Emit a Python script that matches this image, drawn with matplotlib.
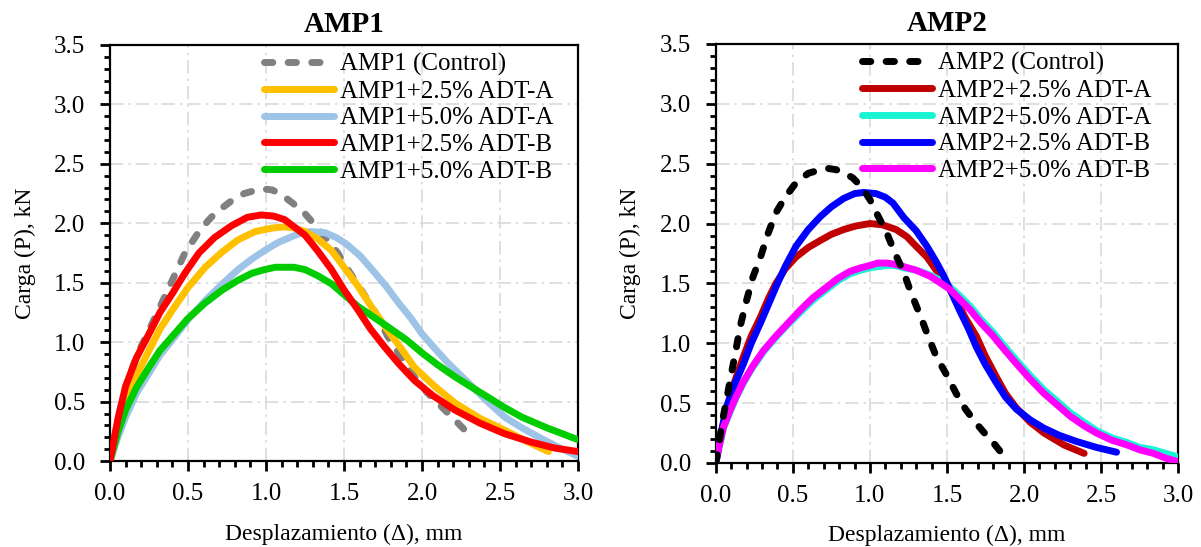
import matplotlib
matplotlib.use("Agg")
import matplotlib.pyplot as plt
from matplotlib.ticker import MultipleLocator

plt.rcParams['font.family'] = ['Liberation Serif', 'DejaVu Serif']

# ---------------- AMP1 ----------------
amp1_ctrl_x = [0, 0.05, 0.1, 0.17, 0.25, 0.35, 0.48, 0.58, 0.67, 0.77, 0.86, 0.97, 1.04, 1.10, 1.17, 1.25, 1.35,
               1.46, 1.53, 1.61, 1.70, 1.78, 1.87, 1.95, 2.03, 2.10, 2.23, 2.32]
amp1_ctrl_y = [0, 0.35, 0.62, 0.88, 1.10, 1.38, 1.75, 1.95, 2.08, 2.18, 2.25, 2.29, 2.28, 2.24, 2.17, 2.08, 1.93,
               1.75, 1.60, 1.44, 1.25, 1.05, 0.87, 0.71, 0.58, 0.49, 0.32, 0.20]

amp1_25a_x = [0, 0.05, 0.1, 0.17, 0.25, 0.32, 0.4, 0.5, 0.61, 0.72, 0.82, 0.93, 1.04, 1.12, 1.18, 1.25, 1.33,
              1.42, 1.5, 1.59, 1.68, 1.78, 1.87, 1.95, 2.08, 2.21, 2.37, 2.53, 2.68, 2.81]
amp1_25a_y = [0, 0.27, 0.49, 0.72, 0.93, 1.11, 1.27, 1.46, 1.63, 1.76, 1.86, 1.93, 1.96, 1.97, 1.96, 1.93, 1.87,
              1.77, 1.63, 1.47, 1.29, 1.10, 0.94, 0.79, 0.63, 0.49, 0.36, 0.26, 0.16, 0.08]

amp1_50a_x = [0, 0.05, 0.1, 0.17, 0.25, 0.32, 0.4, 0.5, 0.61, 0.72, 0.82, 0.91, 0.99, 1.08, 1.17, 1.23, 1.29,
              1.38, 1.45, 1.51, 1.6, 1.68, 1.77, 1.85, 1.93, 2.0, 2.08, 2.17, 2.32, 2.42, 2.53, 2.64, 2.75,
              2.87, 3.0]
amp1_50a_y = [0, 0.2, 0.37, 0.57, 0.74, 0.89, 1.02, 1.19, 1.35, 1.49, 1.61, 1.70, 1.77, 1.84, 1.89, 1.92, 1.93,
              1.92, 1.88, 1.83, 1.73, 1.61, 1.47, 1.33, 1.20, 1.07, 0.95, 0.82, 0.63, 0.50, 0.37, 0.28, 0.20,
              0.12, 0.04]

amp1_25b_x = [0, 0.05, 0.1, 0.17, 0.25, 0.32, 0.4, 0.48, 0.57, 0.67, 0.78, 0.88, 0.97, 1.05, 1.12, 1.18, 1.25,
              1.33, 1.42, 1.5, 1.59, 1.67, 1.76, 1.85, 1.95, 2.07, 2.21, 2.37, 2.53, 2.7, 2.85, 3.0]
amp1_25b_y = [0, 0.35, 0.63, 0.87, 1.07, 1.25, 1.41, 1.58, 1.75, 1.88, 1.98, 2.05, 2.07, 2.06, 2.03, 1.97, 1.90,
              1.77, 1.61, 1.44, 1.27, 1.11, 0.96, 0.82, 0.68, 0.55, 0.43, 0.32, 0.23, 0.16, 0.11, 0.08]

amp1_50b_x = [0, 0.05, 0.1, 0.17, 0.25, 0.32, 0.4, 0.5, 0.61, 0.72, 0.82, 0.91, 0.99, 1.06, 1.12, 1.18, 1.25,
              1.33, 1.42, 1.5, 1.59, 1.68, 1.78, 1.9, 2.0, 2.1, 2.21, 2.32, 2.42, 2.53, 2.64, 2.8, 3.0]
amp1_50b_y = [0, 0.24, 0.43, 0.62, 0.79, 0.93, 1.05, 1.20, 1.33, 1.44, 1.52, 1.58, 1.61, 1.63, 1.63, 1.63, 1.61,
              1.56, 1.49, 1.40, 1.30, 1.22, 1.13, 1.02, 0.91, 0.81, 0.71, 0.62, 0.54, 0.45, 0.37, 0.28, 0.18]

# ---------------- AMP2 ----------------
amp2_ctrl_x = [0, 0.02, 0.04, 0.07, 0.1, 0.13, 0.16, 0.2, 0.24, 0.29, 0.34, 0.39, 0.45, 0.52, 0.6, 0.68, 0.73,
               0.78, 0.84, 0.89, 0.95, 1.0, 1.05, 1.11, 1.16, 1.22, 1.27, 1.33, 1.38, 1.43, 1.5, 1.56, 1.62,
               1.69, 1.75, 1.80, 1.85, 1.89]
amp2_ctrl_y = [0, 0.15, 0.33, 0.53, 0.74, 0.94, 1.15, 1.36, 1.55, 1.72, 1.92, 2.09, 2.22, 2.34, 2.42, 2.45, 2.46,
               2.45, 2.42, 2.38, 2.30, 2.20, 2.07, 1.92, 1.76, 1.59, 1.41, 1.22, 1.05, 0.89, 0.73, 0.58, 0.45,
               0.33, 0.24, 0.17, 0.09, 0.01]

amp2_25a_x = [0, 0.03, 0.07, 0.12, 0.18, 0.23, 0.29, 0.34, 0.39, 0.45, 0.52, 0.6, 0.68, 0.75, 0.83, 0.91, 1.0,
              1.08, 1.17, 1.24, 1.30, 1.37, 1.43, 1.5, 1.56, 1.62, 1.69, 1.75, 1.82, 1.88, 1.95, 2.04, 2.13,
              2.26, 2.39]
amp2_25a_y = [0, 0.22, 0.44, 0.67, 0.89, 1.06, 1.22, 1.37, 1.50, 1.62, 1.72, 1.80, 1.86, 1.91, 1.95, 1.98, 2.00,
              1.99, 1.95, 1.89, 1.81, 1.72, 1.61, 1.49, 1.36, 1.21, 1.06, 0.89, 0.72, 0.58, 0.46, 0.34, 0.25,
              0.15, 0.08]

amp2_50a_x = [0, 0.02, 0.05, 0.09, 0.13, 0.18, 0.24, 0.31, 0.39, 0.47, 0.55, 0.63, 0.72, 0.79, 0.87, 0.94, 1.0,
              1.05, 1.11, 1.16, 1.22, 1.30, 1.39, 1.45, 1.52, 1.58, 1.65, 1.72, 1.80, 1.87, 1.95, 2.04, 2.13,
              2.22, 2.30, 2.39, 2.47, 2.57, 2.67, 2.75, 2.84, 2.92, 3.0]
amp2_50a_y = [0, 0.12, 0.29, 0.42, 0.54, 0.67, 0.80, 0.93, 1.05, 1.16, 1.26, 1.36, 1.45, 1.52, 1.58, 1.61, 1.63,
              1.64, 1.65, 1.65, 1.63, 1.61, 1.57, 1.53, 1.47, 1.40, 1.31, 1.20, 1.09, 0.98, 0.86, 0.73, 0.61,
              0.51, 0.42, 0.34, 0.27, 0.21, 0.17, 0.13, 0.11, 0.08, 0.05]

amp2_25b_x = [0, 0.03, 0.07, 0.12, 0.18, 0.23, 0.29, 0.34, 0.39, 0.45, 0.52, 0.6, 0.68, 0.75, 0.83, 0.9, 0.96,
              1.04, 1.1, 1.15, 1.22, 1.30, 1.37, 1.43, 1.48, 1.53, 1.58, 1.64, 1.69, 1.75, 1.82, 1.88, 1.95,
              2.04, 2.13, 2.23, 2.34, 2.47, 2.60]
amp2_25b_y = [0, 0.22, 0.47, 0.65, 0.83, 1.00, 1.17, 1.32, 1.47, 1.64, 1.81, 1.95, 2.06, 2.14, 2.21, 2.25, 2.26,
              2.25, 2.22, 2.17, 2.05, 1.94, 1.81, 1.68, 1.56, 1.42, 1.28, 1.12, 0.97, 0.82, 0.67, 0.55, 0.45,
              0.36, 0.29, 0.23, 0.18, 0.13, 0.09]

amp2_50b_x = [0, 0.02, 0.05, 0.09, 0.13, 0.18, 0.24, 0.31, 0.39, 0.47, 0.55, 0.63, 0.72, 0.79, 0.87, 0.94, 1.0,
              1.05, 1.11, 1.16, 1.22, 1.30, 1.39, 1.45, 1.52, 1.58, 1.65, 1.72, 1.80, 1.87, 1.95, 2.04, 2.13,
              2.22, 2.30, 2.39, 2.47, 2.57, 2.67, 2.75, 2.84, 2.92, 3.0]
amp2_50b_y = [0, 0.13, 0.30, 0.43, 0.55, 0.68, 0.81, 0.94, 1.06, 1.17, 1.28, 1.38, 1.47, 1.54, 1.60, 1.63, 1.65,
              1.67, 1.67, 1.66, 1.64, 1.61, 1.56, 1.51, 1.45, 1.37, 1.28, 1.17, 1.06, 0.95, 0.83, 0.70, 0.58,
              0.48, 0.39, 0.31, 0.25, 0.19, 0.15, 0.11, 0.08, 0.04, 0.01]

LW = 5
DASH = (0, (1.2, 2.2))

fig = plt.figure(figsize=(12.01, 5.47), dpi=100)
ax1 = fig.add_axes([0.0916, 0.157, 0.3897, 0.761])
ax2 = fig.add_axes([0.596, 0.1536, 0.385, 0.766])


def style(ax, title):
    ax.set_xlim(0, 3.0)
    ax.set_ylim(0, 3.5)
    ax.xaxis.set_major_locator(MultipleLocator(0.5))
    ax.xaxis.set_minor_locator(MultipleLocator(0.1))
    ax.yaxis.set_major_locator(MultipleLocator(0.5))
    ax.yaxis.set_minor_locator(MultipleLocator(0.1))
    ax.xaxis.set_major_formatter(lambda v, p: f"{v:.1f}")
    ax.yaxis.set_major_formatter(lambda v, p: f"{v:.1f}")
    ax.tick_params(which='major', direction='out', length=7, width=2, labelsize=18)
    ax.tick_params(which='minor', direction='out', length=4, width=2)
    ax.tick_params(axis='x', which='major', pad=9)
    ax.tick_params(axis='y', which='major', pad=11)
    for s in ax.spines.values():
        s.set_linewidth(1.6)
    ax.grid(True, which='major', color='#d9d9d9', lw=1.2, linestyle=(0, (8, 3, 1.5, 3)))
    ax.set_axisbelow(True)
    ax.set_title(title, fontsize=21, fontweight='bold', pad=9)
    ax.set_xlabel('Desplazamiento (Δ), mm', fontsize=17, labelpad=13)
    ax.set_ylabel('Carga (P), kN', fontsize=17, labelpad=13)


def add_legend(ax, handles, x0):
    ax.legend(handles=handles, loc='upper left', bbox_to_anchor=(x0, 1.0), frameon=False, fontsize=18,
              handlelength=2.8, handletextpad=0.25, labelspacing=0.17, borderpad=0.2, borderaxespad=0.12)


h = []
h.append(ax1.plot(amp1_ctrl_x, amp1_ctrl_y, color='#808080', lw=LW, ls=DASH, dash_capstyle='round',
                  label='AMP1 (Control)', zorder=2)[0])
h.append(ax1.plot(amp1_25a_x, amp1_25a_y, color='#FFC000', lw=LW, solid_capstyle='round',
                  label='AMP1+2.5% ADT-A', zorder=4)[0])
h.append(ax1.plot(amp1_50a_x, amp1_50a_y, color='#9DC3E6', lw=LW, solid_capstyle='round',
                  label='AMP1+5.0% ADT-A', zorder=3)[0])
h.append(ax1.plot(amp1_25b_x, amp1_25b_y, color='#FF0000', lw=LW, solid_capstyle='round',
                  label='AMP1+2.5% ADT-B', zorder=6)[0])
h.append(ax1.plot(amp1_50b_x, amp1_50b_y, color='#00CC00', lw=LW, solid_capstyle='round',
                  label='AMP1+5.0% ADT-B', zorder=5)[0])
add_legend(ax1, h, 0.312)
style(ax1, 'AMP1')

h = []
h.append(ax2.plot(amp2_ctrl_x, amp2_ctrl_y, color='#000000', lw=LW, ls=DASH, dash_capstyle='round',
                  label='AMP2 (Control)', zorder=7)[0])
h.append(ax2.plot(amp2_25a_x, amp2_25a_y, color='#C00000', lw=LW, solid_capstyle='round',
                  label='AMP2+2.5% ADT-A', zorder=3)[0])
h.append(ax2.plot(amp2_50a_x, amp2_50a_y, color='#19F5D2', lw=LW, solid_capstyle='round',
                  label='AMP2+5.0% ADT-A', zorder=4)[0])
h.append(ax2.plot(amp2_25b_x, amp2_25b_y, color='#0000FF', lw=LW, solid_capstyle='round',
                  label='AMP2+2.5% ADT-B', zorder=5)[0])
h.append(ax2.plot(amp2_50b_x, amp2_50b_y, color='#FF00FF', lw=LW, solid_capstyle='round',
                  label='AMP2+5.0% ADT-B', zorder=6)[0])
add_legend(ax2, h, 0.298)
style(ax2, 'AMP2')

fig.savefig('out.png', dpi=100)
